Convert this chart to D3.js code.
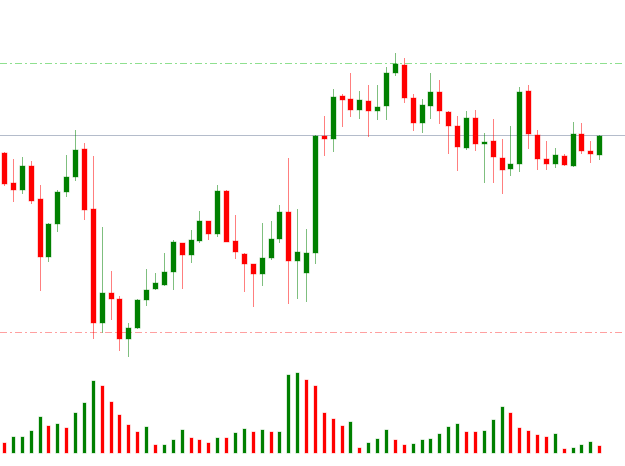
<!DOCTYPE html>
<html>
<head>
<meta charset="utf-8">
<script src="https://cdn.jsdelivr.net/npm/d3@7"></script>
<style>
  html, body { margin: 0; padding: 0; background: #fff; }
  svg { display: block; }
</style>
</head>
<body>
<div id="chart"></div>
<script>
const openPrices = [1.1247,1.1217,1.1210,1.1234,1.1201,1.1143,1.1176,1.1208,1.1223,1.1251,1.1191,1.1077,1.1107,1.1101,1.1061,1.1072,1.1100,1.1111,1.1115,1.1128,1.1157,1.1145,1.1159,1.1179,1.1166,1.1209,1.1159,1.1146,1.1136,1.1126,1.1142,1.1161,1.1188,1.1139,1.1127,1.1147,1.1264,1.1261,1.1304,1.1301,1.1290,1.1299,1.1289,1.1294,1.1327,1.1335,1.1302,1.1277,1.1294,1.1308,1.1288,1.1274,1.1252,1.1282,1.1256,1.1259,1.1242,1.1231,1.1236,1.1309,1.1265,1.1241,1.1236,1.1244,1.1234,1.1266,1.1249,1.1245];
const highPrices = [1.1248,1.1241,1.1243,1.1239,1.1215,1.1177,1.1210,1.1245,1.1270,1.1257,1.1244,1.1173,1.1129,1.1104,1.1077,1.1101,1.1131,1.1127,1.1147,1.1160,1.1157,1.1170,1.1189,1.1179,1.1215,1.1210,1.1185,1.1147,1.1136,1.1177,1.1179,1.1195,1.1242,1.1191,1.1171,1.1265,1.1284,1.1311,1.1306,1.1327,1.1309,1.1315,1.1315,1.1333,1.1347,1.1342,1.1306,1.1301,1.1327,1.1320,1.1289,1.1284,1.1289,1.1290,1.1267,1.1281,1.1261,1.1274,1.1313,1.1315,1.1270,1.1259,1.1252,1.1246,1.1278,1.1277,1.1259,1.1265];
const lowPrices = [1.1214,1.1198,1.1206,1.1196,1.1109,1.1138,1.1168,1.1203,1.1219,1.1180,1.1061,1.1067,1.1080,1.1049,1.1043,1.1071,1.1094,1.1110,1.1114,1.1110,1.1111,1.1137,1.1157,1.1160,1.1163,1.1158,1.1141,1.1108,1.1093,1.1114,1.1140,1.1157,1.1096,1.1101,1.1098,1.1136,1.1244,1.1248,1.1273,1.1283,1.1281,1.1263,1.1280,1.1280,1.1324,1.1297,1.1269,1.1267,1.1281,1.1276,1.1246,1.1229,1.1250,1.1249,1.1217,1.1217,1.1206,1.1224,1.1228,1.1251,1.1230,1.1230,1.1232,1.1234,1.1233,1.1246,1.1237,1.1240];
const closePrices = [1.1216,1.1210,1.1234,1.1199,1.1143,1.1176,1.1208,1.1223,1.1250,1.1190,1.1077,1.1107,1.1101,1.1061,1.1072,1.1100,1.1110,1.1117,1.1128,1.1158,1.1145,1.1160,1.1179,1.1166,1.1209,1.1158,1.1148,1.1136,1.1126,1.1142,1.1161,1.1188,1.1139,1.1148,1.1147,1.1264,1.1261,1.1303,1.1300,1.1290,1.1300,1.1289,1.1293,1.1327,1.1336,1.1302,1.1277,1.1295,1.1308,1.1289,1.1274,1.1253,1.1282,1.1256,1.1258,1.1243,1.1230,1.1236,1.1308,1.1266,1.1241,1.1236,1.1245,1.1235,1.1266,1.1249,1.1246,1.1264];

const volumes = [10,16,16,22,36,27,29,25,40,50,72,67,51,38,28,21,26,8,8,13,23,15,13,10,15,15,20,24,21,23,21,21,78,80,73,67,40,34,27,31,5,10,14,23,13,8,9,13,14,19,26,29,21,21,22,33,46,40,25,22,18,16,19,4,5,8,11,7];
const volumeDir = ["d","u","u","u","u","d","u","d","u","u","u","d","d","d","d","d","u","d","u","u","u","d","d","d","u","d","u","u","d","u","d","u","u","u","d","d","d","d","d","u","d","u","u","u","d","d","u","u","u","u","u","u","d","d","u","u","u","d","d","d","d","d","u","d","u","u","u","d"];

const levelLines = [
  { price: 1.1337, color: "#8fe08f", dash: "7,3,2,3" },
  { price: 1.1265, color: "#b4bccb", dash: null },
  { price: 1.1068, color: "#ffa0a0", dash: "7,3,2,3" }
];

const width = 625, height = 466;
const upColor = "#008000", downColor = "#ff0000";

const data = openPrices.map((o, i) => ({
  i, open: o, high: highPrices[i], low: lowPrices[i], close: closePrices[i],
  volume: volumes[i], volUp: volumeDir[i] === "u"
}));

const svg = d3.select("#chart").append("svg")
  .attr("width", width)
  .attr("height", height);

const x = d3.scaleBand()
  .domain(data.map(d => d.i))
  .range([-0.45, 603.7]);
const cx = i => x(i) + x.bandwidth() / 2;

const y = d3.scaleLinear()
  .domain([1.1040, 1.1400])
  .range([360, 0]);

const yVol = d3.scaleLinear()
  .domain([0, 80])
  .range([453, 373]);

svg.append("g")
  .selectAll("line")
  .data(levelLines)
  .enter()
  .append("line")
  .attr("x1", 0)
  .attr("x2", width)
  .attr("y1", d => Math.round(y(d.price)) + 0.5)
  .attr("y2", d => Math.round(y(d.price)) + 0.5)
  .attr("stroke", d => d.color)
  .attr("stroke-width", 1)
  .attr("stroke-dasharray", d => d.dash);

const candles = svg.append("g")
  .selectAll("g")
  .data(data)
  .enter()
  .append("g");

candles.append("line")
  .attr("x1", d => Math.round(cx(d.i)) + 0.5)
  .attr("x2", d => Math.round(cx(d.i)) + 0.5)
  .attr("y1", d => y(d.high))
  .attr("y2", d => y(d.low))
  .attr("stroke", d => d.close >= d.open ? upColor : downColor)
  .attr("stroke-opacity", 0.5)
  .attr("stroke-width", 1);

candles.append("rect")
  .attr("x", d => Math.round(cx(d.i)) - 2)
  .attr("width", 5)
  .attr("y", d => y(Math.max(d.open, d.close)))
  .attr("height", d => Math.max(1, Math.abs(y(d.open) - y(d.close))))
  .attr("fill", d => d.close >= d.open ? upColor : downColor)
  .attr("stroke", d => d.close >= d.open ? upColor : downColor)
  .attr("stroke-opacity", 0.35)
  .attr("stroke-width", 1);

svg.append("g")
  .selectAll("rect")
  .data(data)
  .enter()
  .append("rect")
  .attr("x", d => Math.round(cx(d.i)) - 1)
  .attr("width", 3)
  .attr("y", d => yVol(d.volume))
  .attr("height", d => yVol(0) - yVol(d.volume))
  .attr("fill", d => d.volUp ? upColor : downColor)
  .attr("stroke", d => d.volUp ? upColor : downColor)
  .attr("stroke-opacity", 0.3)
  .attr("stroke-width", 1);
</script>
</body>
</html>
